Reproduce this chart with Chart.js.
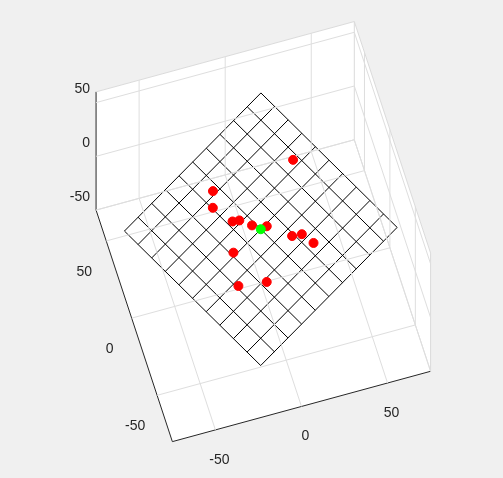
<!DOCTYPE html>
<html>
<head>
<meta charset="utf-8">
<script src="https://cdn.jsdelivr.net/npm/chart.js@4"></script>
<style>
  html, body { margin: 0; padding: 0; background: #f0f0f0; }
  #wrap { width: 503px; height: 478px; }
</style>
</head>
<body>
<div id="wrap"><canvas id="plot"></canvas></div>
<script>
// 3D data (x, y, z)
const redX = [29.4, -18.8, -21.8, -13.7, -9.9, -4.0, 3.7, 15.5, 21.0, 25.7, -18.7, -21.9, -6.1];
const redY = [36.0, 30.4, 20.5, 9.2, 8.7, 3.7, 0.8, -9.1, -9.6, -16.7, -9.5, -30.1, -32.3];
const redZ = [0, 0, 0, 0, 0, 0, 0, 0, 0, 0, 0, 0, 0];
const greenPt = [0, 0, 0];
// plane corners (left, top, right, bottom)
const planeX = [-73, 24, 73, -24];
const planeY = [21, 81, -21, -81];
const planeCells = 10;
const xTicks = [-50, 0, 50];
const yTicks = [-50, 0, 50];
const zTicks = [-50, 0, 50];
const lim = { x: [-75, 75], y: [-80, 70], z: [-50, 60] };

// view projection (screen px per data unit)
function proj(x, y, z) {
    return { x: 261 + 1.76 * x - 0.52 * y, y: 229 - 0.48 * x - 1.58 * y - 1.1 * z };
}
function seg(a, b, color, width) {
    return { type: 'line', data: [proj(...a), proj(...b)], borderColor: color, borderWidth: width,
             pointRadius: 0, showLine: true, fill: false, order: 5 };
}

const datasets = [];
const [x0, x1] = lim.x, [y0, y1] = lim.y, [z0, z1] = lim.z;
const gridC = '#dedede', edgeC = '#dadada', axisC = '#262626';

// back grid: floor z=z0, wall x=x1, wall y=y1
xTicks.forEach(t => { datasets.push(seg([t, y0, z0], [t, y1, z0], gridC, 1)); datasets.push(seg([t, y1, z0], [t, y1, z1], gridC, 1)); });
yTicks.forEach(t => { datasets.push(seg([x0, t, z0], [x1, t, z0], gridC, 1)); datasets.push(seg([x1, t, z0], [x1, t, z1], gridC, 1)); });
zTicks.forEach(t => { datasets.push(seg([x0, y1, t], [x1, y1, t], gridC, 1)); datasets.push(seg([x1, y0, t], [x1, y1, t], gridC, 1)); });
// box edges
datasets.push(seg([x1, y0, z0], [x1, y1, z0], edgeC, 1));
datasets.push(seg([x0, y1, z0], [x1, y1, z0], edgeC, 1));
datasets.push(seg([x1, y1, z0], [x1, y1, z1], edgeC, 1));
datasets.push(seg([x1, y0, z0], [x1, y0, z1], edgeC, 1));
datasets.push(seg([x0, y1, z1], [x1, y1, z1], edgeC, 1));
datasets.push(seg([x1, y0, z1], [x1, y1, z1], edgeC, 1));
// axis lines
datasets.push(seg([x0, y0, z0], [x1, y0, z0], axisC, 1));
datasets.push(seg([x0, y0, z0], [x0, y1, z0], axisC, 1));
datasets.push(seg([x0, y1, z0], [x0, y1, z1], axisC, 1));

// plane mesh
function lerp(a, b, t) { return a + (b - a) * t; }
for (let i = 0; i <= planeCells; i++) {
    const t = i / planeCells;
    datasets.push(seg([lerp(planeX[0], planeX[3], t), lerp(planeY[0], planeY[3], t), 0],
                      [lerp(planeX[1], planeX[2], t), lerp(planeY[1], planeY[2], t), 0], '#000000', 1));
    datasets.push(seg([lerp(planeX[0], planeX[1], t), lerp(planeY[0], planeY[1], t), 0],
                      [lerp(planeX[3], planeX[2], t), lerp(planeY[3], planeY[2], t), 0], '#000000', 1));
}

datasets.push({ type: 'scatter', data: redX.map((x, i) => proj(x, redY[i], redZ[i])),
    backgroundColor: '#ff0000', borderColor: '#ff0000', pointRadius: 4.5, order: 1 });
datasets.push({ type: 'scatter', data: [proj(...greenPt)],
    backgroundColor: '#00ff00', borderColor: '#00ff00', pointRadius: 4.5, order: 0 });

const backdrop = {
    id: 'backdrop',
    beforeDatasetsDraw(chart) {
        const { ctx, scales } = chart;
        const P = (x, y, z) => { const p = proj(x, y, z); return [scales.x.getPixelForValue(p.x), scales.y.getPixelForValue(p.y)]; };
        const faces = [
            [[x0, y0, z0], [x1, y0, z0], [x1, y1, z0], [x0, y1, z0]],
            [[x1, y0, z0], [x1, y1, z0], [x1, y1, z1], [x1, y0, z1]],
            [[x0, y1, z0], [x1, y1, z0], [x1, y1, z1], [x0, y1, z1]]
        ];
        ctx.save();
        ctx.fillStyle = '#ffffff';
        faces.forEach(f => {
            ctx.beginPath();
            f.forEach((c, i) => { const p = P(...c); i ? ctx.lineTo(p[0], p[1]) : ctx.moveTo(p[0], p[1]); });
            ctx.closePath(); ctx.fill();
        });
        ctx.restore();
    },
    afterDatasetsDraw(chart) {
        const { ctx, scales } = chart;
        const P = (x, y, z) => { const p = proj(x, y, z); return [scales.x.getPixelForValue(p.x), scales.y.getPixelForValue(p.y)]; };
        ctx.save();
        ctx.fillStyle = '#262626';
        ctx.font = '14px "Liberation Sans", Arial, sans-serif';
        ctx.textBaseline = 'middle';
        ctx.textAlign = 'center';
        xTicks.forEach(t => { const p = P(t, y0, z0); ctx.fillText(String(t), p[0] + 4, p[1] + 30); });
        yTicks.forEach(t => { const p = P(x0, t, z0); ctx.fillText(String(t), p[0] - 22, p[1] + 31); });
        ctx.textAlign = 'right';
        zTicks.forEach(t => { const p = P(x0, y1, t); ctx.fillText(String(t), p[0] - 6, p[1] - 13); });
        ctx.restore();
    }
};

new Chart(document.getElementById('plot').getContext('2d'), {
    type: 'scatter',
    data: { datasets: datasets },
    options: {
        responsive: true,
        maintainAspectRatio: false,
        animation: false,
        layout: { padding: 0 },
        plugins: { legend: { display: false }, tooltip: { enabled: false } },
        scales: {
            x: { type: 'linear', min: 0, max: 503, display: false },
            y: { type: 'linear', min: 0, max: 478, reverse: true, display: false }
        }
    },
    plugins: [backdrop]
});
</script>
</body>
</html>
